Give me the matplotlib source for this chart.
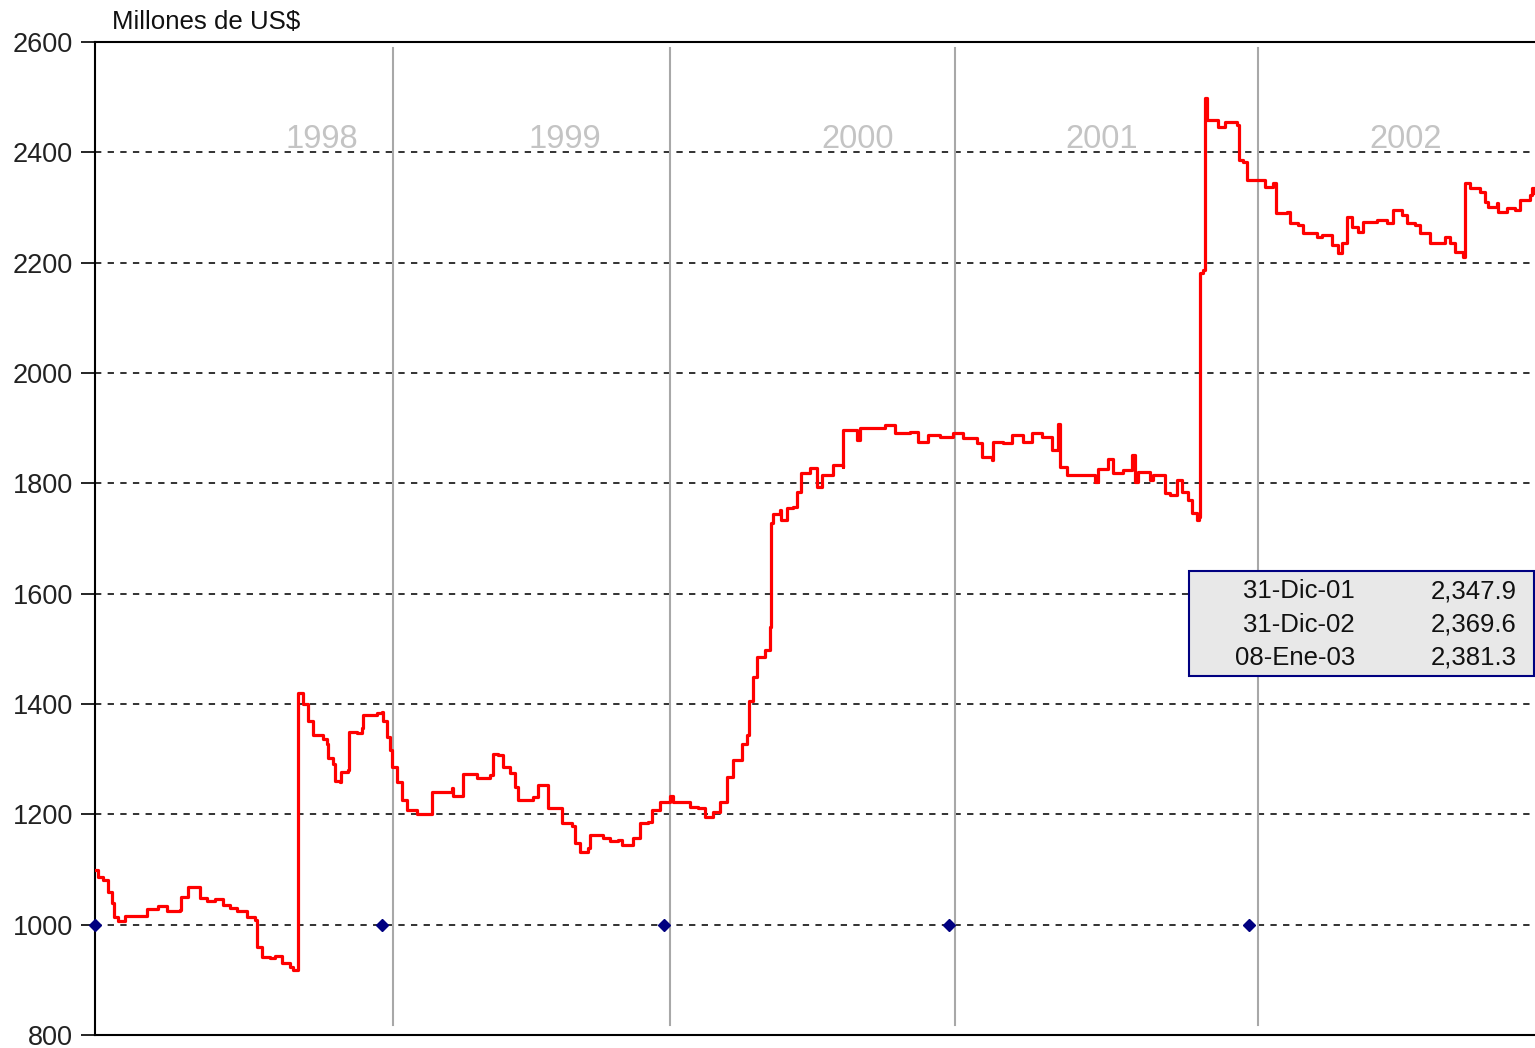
import numpy as np
import matplotlib.pyplot as plt
from matplotlib.patches import Rectangle

plt.rcParams['font.family'] = ['Liberation Sans', 'DejaVu Sans']

# observacion (indice diario aprox.) y saldo en millones de US$
dias = [0, 3, 8, 13, 17, 19, 23, 30, 48, 52,
        63, 72, 85, 86, 93, 98, 105, 112, 120, 128,
        135, 142, 152, 160, 162, 167, 175, 180, 187, 195,
        198, 203, 203, 208, 213, 218, 228, 232, 233, 238,
        240, 245, 246, 253, 254, 262, 267, 268, 282, 287,
        288, 292, 295, 297, 302, 307, 312, 322, 337, 337,
        357, 358, 367, 368, 382, 395, 398, 403, 408, 415,
        420, 423, 438, 443, 450, 453, 465, 467, 477, 480,
        485, 493, 495, 508, 515, 523, 527, 538, 545, 553,
        557, 565, 575, 578, 587, 595, 603, 610, 618, 625,
        632, 638, 647, 652, 654, 658, 662, 670, 675, 676,
        678, 685, 686, 692, 698, 702, 706, 715, 722, 727,
        738, 748, 748, 757, 762, 765, 790, 800, 815, 823,
        833, 845, 858, 868, 882, 887, 897, 898, 908, 917,
        928, 937, 947, 957, 963, 965, 972, 988, 1000, 1003,
        1013, 1018, 1028, 1037, 1040, 1043, 1055, 1058, 1070, 1075,
        1082, 1087, 1093, 1097, 1102, 1104, 1105, 1108, 1110, 1110,
        1112, 1122, 1123, 1130, 1142, 1144, 1148, 1152, 1163, 1170,
        1178, 1181, 1192, 1195, 1203, 1208, 1222, 1227, 1237, 1243,
        1247, 1252, 1257, 1263, 1268, 1282, 1292, 1298, 1307, 1312,
        1320, 1325, 1335, 1347, 1350, 1355, 1360, 1368, 1370, 1375,
        1385, 1390, 1393, 1402, 1403, 1412, 1420, 1425, 1435, 1437,
        1440]
saldo = [1100, 1087, 1081, 1060, 1040, 1013, 1006, 1015, 1015, 1029,
         1033, 1024, 1027, 1051, 1069, 1069, 1049, 1042, 1047, 1036,
         1031, 1024, 1013, 1009, 960, 942, 940, 944, 931, 924,
         918, 924, 1420, 1400, 1370, 1343, 1337, 1328, 1303, 1292,
         1261, 1258, 1276, 1280, 1349, 1347, 1356, 1380, 1383, 1385,
         1370, 1340, 1317, 1286, 1258, 1226, 1208, 1201, 1203, 1241,
         1248, 1233, 1233, 1273, 1266, 1271, 1309, 1307, 1286, 1275,
         1250, 1226, 1231, 1253, 1253, 1211, 1211, 1184, 1179, 1148,
         1132, 1139, 1163, 1157, 1152, 1154, 1145, 1157, 1184, 1186,
         1208, 1222, 1233, 1222, 1222, 1213, 1211, 1195, 1204, 1222,
         1267, 1298, 1328, 1343, 1406, 1449, 1485, 1498, 1540, 1728,
         1745, 1752, 1734, 1755, 1757, 1784, 1819, 1828, 1793, 1815,
         1833, 1830, 1897, 1897, 1879, 1900, 1905, 1891, 1893, 1875,
         1888, 1884, 1891, 1882, 1873, 1848, 1842, 1875, 1873, 1888,
         1875, 1891, 1884, 1860, 1908, 1830, 1815, 1815, 1802, 1826,
         1844, 1819, 1824, 1851, 1802, 1820, 1806, 1815, 1782, 1779,
         1806, 1784, 1770, 1746, 1734, 1739, 2181, 2187, 2187, 2498,
         2459, 2459, 2446, 2455, 2450, 2386, 2383, 2350, 2350, 2337,
         2344, 2290, 2292, 2272, 2268, 2254, 2247, 2250, 2232, 2218,
         2236, 2283, 2265, 2256, 2274, 2277, 2272, 2295, 2286, 2272,
         2268, 2254, 2236, 2236, 2247, 2236, 2219, 2210, 2344, 2335,
         2328, 2310, 2301, 2308, 2292, 2299, 2295, 2314, 2323, 2335,
         2326]

# cortes de año, marcadores y etiquetas
cortes = [298, 575, 860, 1163]
marcas_x = [0, 287, 569, 854, 1154]
anios = ['1998', '1999', '2000', '2001', '2002']
anios_x = [227, 470, 763, 1007, 1311]

tabla_fechas = ['31-Dic-01', '31-Dic-02', '08-Ene-03']
tabla_valores = ['2,347.9', '2,369.6', '2,381.3']

fig = plt.figure(figsize=(15.35, 10.48), dpi=100)
ax = fig.add_axes([95 / 1535, 13 / 1048, 1 - 95 / 1535, 993 / 1048])

ax.set_xlim(0, 1440)
ax.set_ylim(800, 2600)
ax.set_yticks(np.arange(800, 2601, 200))
ax.set_xticks([])
ax.tick_params(axis='y', length=10, width=1.2, pad=6, labelsize=19.5,
               labelcolor='#222222')

for s in ['left', 'bottom', 'top']:
    ax.spines[s].set_linewidth(1.5)
ax.spines['right'].set_visible(False)

# lineas punteadas horizontales
for v in range(1000, 2600, 200):
    ax.axhline(v, color='#222222', lw=1.3, ls=(0, (3.5, 3.5)), zorder=1)

# separadores de año
for c in cortes:
    ax.plot([c, c], [818, 2589], color='#a8a8a8', lw=1.5, zorder=1)

for x, t in zip(anios_x, anios):
    ax.text(x, 2424, t, ha='center', va='center', fontsize=23.5,
            color='#c4c4c4', zorder=2)

ax.plot(marcas_x, [1000] * len(marcas_x), ls='none', marker='D',
        markersize=6, color='#000080', zorder=3, clip_on=False)

ax.plot(dias, saldo, color='#ff0000', lw=2.3, zorder=4,
        drawstyle='steps-post')

fig.text(112 / 1535, 1 - 22 / 1048, 'Millones de US$', fontsize=18.6,
         va='center', ha='left', color='#111111')

# recuadro con los ultimos valores
fig.patches.append(Rectangle((1189 / 1535, 1 - 676 / 1048), 345 / 1535,
                             105 / 1048, transform=fig.transFigure,
                             facecolor='#e8e8e8', edgecolor='#000080',
                             lw=1.5, zorder=5))
for i, (f, v) in enumerate(zip(tabla_fechas, tabla_valores)):
    yy = 1 - (591 + i * 33.5) / 1048
    fig.text(1355 / 1535, yy, f, ha='right', va='center', fontsize=18.5,
             color='#111111', zorder=6)
    fig.text(1517 / 1535, yy, v, ha='right', va='center', fontsize=18.5,
             color='#111111', zorder=6)

fig.savefig('out.png', dpi=100)
